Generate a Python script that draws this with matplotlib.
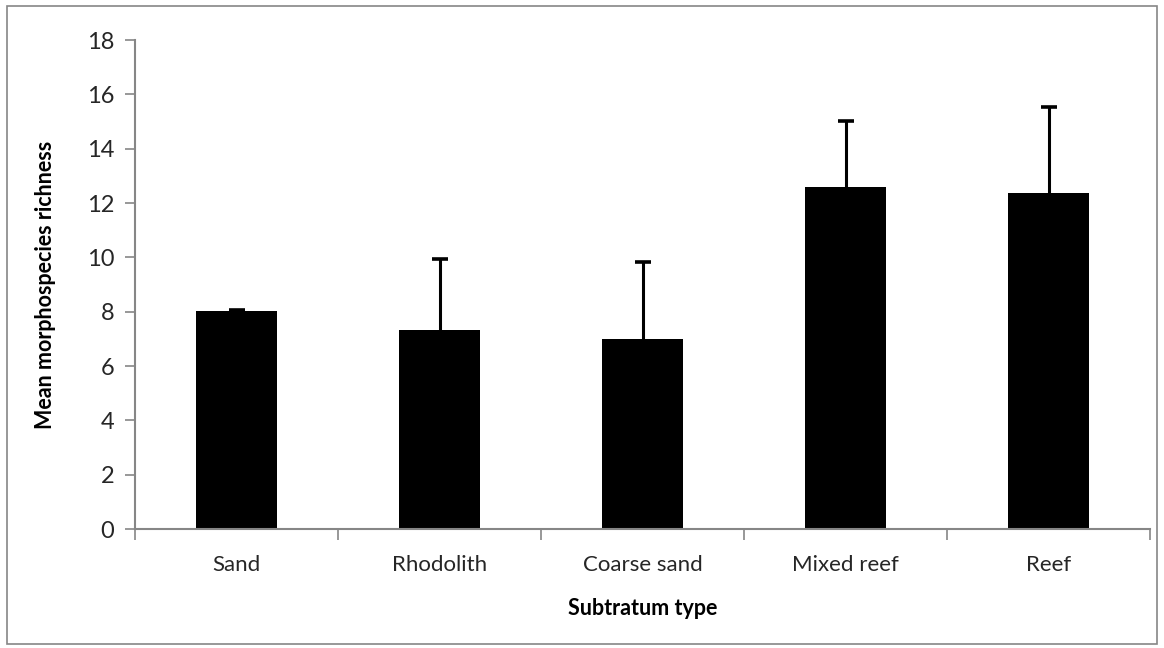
import matplotlib.pyplot as plt
from matplotlib.patches import Rectangle

substraty = ['Sand', 'Rhodolith', 'Coarse sand', 'Mixed reef', 'Reef']
srednie = [8.01, 7.32, 6.99, 12.58, 12.36]
bledy = [0.04, 2.63, 2.83, 2.45, 3.16]

plt.rcParams['font.family'] = ['Lato', 'DejaVu Sans']

fig = plt.figure(figsize=(11.64, 6.48), dpi=100)
ax = fig.add_axes([0.116, 0.1836, 0.872, 0.7546])

x = list(range(len(substraty)))
ax.bar(x, srednie, width=0.4, color='black', zorder=2)
# tylko gorne wasy, bez kreski na szczycie slupka
ax.errorbar(x, srednie, yerr=[[0] * len(bledy), bledy], fmt='none',
            ecolor='black', elinewidth=2.2, capsize=0, zorder=3)
gorne = [s + b for s, b in zip(srednie, bledy)]
ax.plot(x, gorne, ls='none', marker='_', markersize=11, mew=2.6, color='black', zorder=3)

ax.set_xlim(-0.5, len(substraty) - 0.5)
ax.set_ylim(0, 18)
ax.set_yticks(range(0, 19, 2))
ax.set_xticks([i - 0.5 for i in range(len(substraty) + 1)])
ax.set_xticklabels([''] * (len(substraty) + 1))
ax.set_xticks(x, minor=True)
ax.set_xticklabels(substraty, minor=True)
ax.tick_params(axis='x', which='minor', length=0, pad=19, labelsize=16, colors='#262626')
ax.tick_params(axis='x', which='major', length=8, width=1.2, color='#868686')
ax.tick_params(axis='y', length=7, width=1.2, color='#868686', labelsize=17, labelcolor='#262626', pad=8)

for s in ['top', 'right']:
    ax.spines[s].set_visible(False)
for s in ['left', 'bottom']:
    ax.spines[s].set_color('#868686')
    ax.spines[s].set_linewidth(1.5)

ax.set_xlabel('Subtratum type', fontsize=15.5, fontweight='bold', labelpad=16)
ax.set_ylabel('Mean morphospecies richness', fontsize=15.5, fontweight='bold', labelpad=22)

fig.patches.append(Rectangle((0.006, 0.006), 0.988, 0.985, transform=fig.transFigure,
                             fill=False, edgecolor='#868686', linewidth=1.2))

fig.savefig('out.png', dpi=100)
